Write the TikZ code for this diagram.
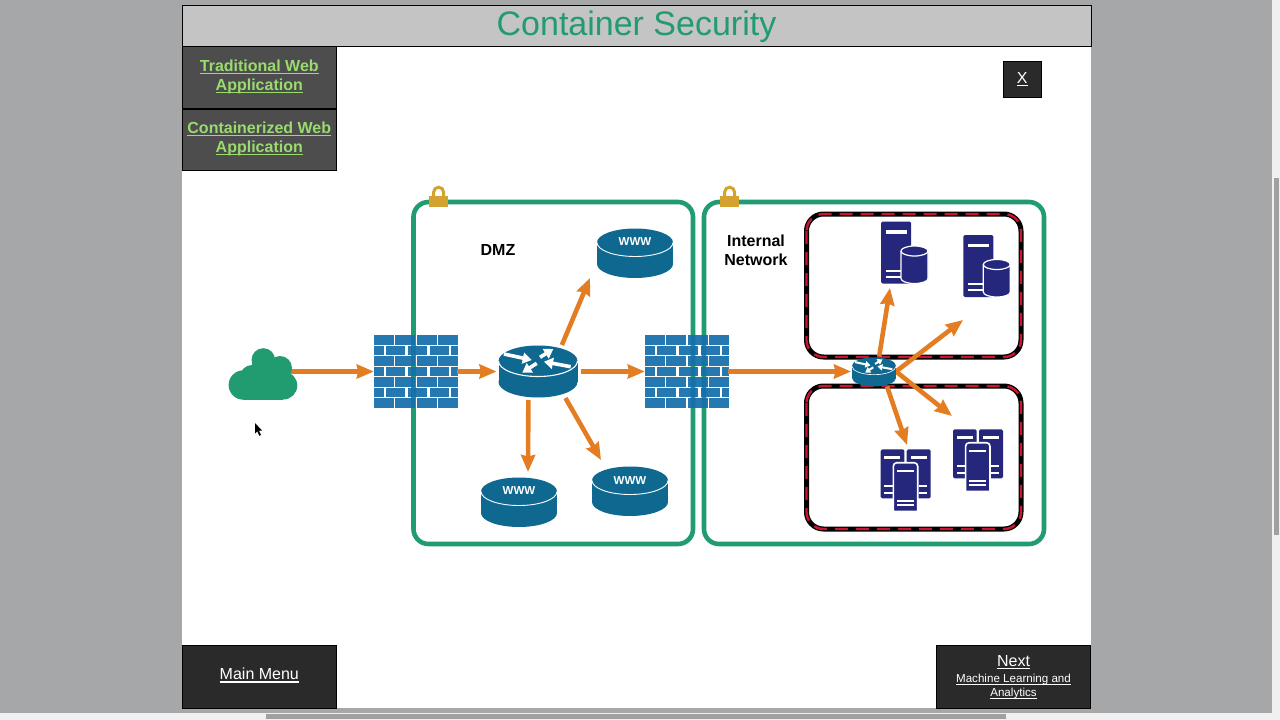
\documentclass[tikz,border=0pt]{standalone}
\usepackage{fontspec}
\setmainfont{Liberation Sans}
\usetikzlibrary{arrows.meta,calc,positioning}
\definecolor{pagegray}{RGB}{166,167,169}
\definecolor{titlegray}{RGB}{196,196,196}
\definecolor{barlight}{RGB}{240,240,240}
\definecolor{thumbgray}{RGB}{160,160,160}
\definecolor{btndark}{RGB}{77,77,77}
\definecolor{btnblack}{RGB}{42,42,42}
\definecolor{linkgreen}{RGB}{154,219,110}
\definecolor{zonegreen}{RGB}{33,155,112}
\definecolor{zonered}{RGB}{200,22,50}
\definecolor{floworange}{RGB}{228,125,34}
\definecolor{wallblue}{RGB}{22,110,172}
\definecolor{routerblue}{RGB}{14,104,144}
\definecolor{servernavy}{RGB}{37,39,125}
\definecolor{lockgold}{RGB}{212,162,46}
\newcommand{\linktext}[1]{\setbox0\hbox{#1}\rlap{\rule[-.17em]{\wd0}{.075em}}\box0}
\tikzset{
  pics/firewall/.style={code={
    \foreach \r in {0,2,4,6}
      \foreach \a/\b in {0/20,21.4/41.4,42.8/62.6,64/83.7}
        \fill[wallblue,opacity=.93] (\a,{\r*10.55}) rectangle (\b,{\r*10.55+9.6});
    \foreach \r in {1,3,5}
      \foreach \a/\b in {0/10,12/31.2,33.8/53.2,55.5/75,76.7/83.7}
        \fill[wallblue,opacity=.93] (\a,{\r*10.55}) rectangle (\b,{\r*10.55+9.6});
  }},
  pics/router/.style={code={
    \begin{scope}[scale=#1]
      \fill[routerblue] (0,21) ellipse[x radius=39.5,y radius=15.5];
      \fill[routerblue] (-39.5,0) rectangle (39.5,21);
      \fill[routerblue] (0,0) ellipse[x radius=39.5,y radius=15.5];
      \draw[white,line width=#1*1.1pt] (-39.5,0) arc[start angle=180,end angle=0,x radius=39.5,y radius=15.5];
      \draw[rtrarrow=#1] (-34,-7) -- (-6.3,-1);
      \draw[rtrarrow=#1] (32.7,5.7) -- (6,.7);
      \draw[rtrarrow=#1] (2,-3.7) -- (15.3,-12);
      \draw[rtrarrow=#1] (-1.3,2.3) -- (-15.7,11.7);
    \end{scope}
  }},
  rtrarrow/.style={white,line width=#1*3.6pt,-{Triangle[length=9pt,width=11pt,scale=#1]}},
  pics/disk/.style={code={
    \fill[routerblue] (0,21.5) ellipse[x radius=38,y radius=14];
    \fill[routerblue] (-38,0) rectangle (38,21.5);
    \fill[routerblue] (0,0) ellipse[x radius=38,y radius=14];
    \draw[white,line width=.9pt] (-38,0) arc[start angle=180,end angle=0,x radius=38,y radius=14];
  }},
  pics/dbserver/.style={code={
    \fill[servernavy,rounded corners=1.5pt] (0,0) rectangle (30,62);
    \fill[white] (4.5,8.5) rectangle (25.5,12);
    \fill[white] (4.5,48) rectangle (21,50.2);
    \fill[white] (4.5,54) rectangle (21,56.2);
    \fill[servernavy,draw=white,line width=1.2pt] (20,29.5) -- (20,57) arc[start angle=180,end angle=0,x radius=13.5,y radius=5] -- (47,29.5) arc[start angle=0,end angle=-180,x radius=13.5,y radius=5] -- cycle;
    \draw[white,line width=1.2pt] (20,29.5) arc[start angle=180,end angle=0,x radius=13.5,y radius=5];
  }},
  pics/serverstack/.style={code={
    \fill[servernavy,rounded corners=1.5pt] (0,0) rectangle (23.6,49);
    \fill[servernavy,rounded corners=1.5pt] (26,0) rectangle (50,49);
    \fill[white] (3.5,7) rectangle (19.5,9.2);
    \fill[white] (30,7) rectangle (46,9.2);
    \fill[white] (3.5,35.8) rectangle (12,38);
    \fill[white] (3.5,42.4) rectangle (12,44.6);
    \fill[white] (38,35.8) rectangle (46,38);
    \fill[white] (38,42.4) rectangle (46,44.6);
    \fill[servernavy,draw=white,line width=1.6pt] (12.6,62) [rounded corners=3.5pt] -- (12.6,13.4) -- (37,13.4) [sharp corners] -- (37,62) -- cycle;
    \fill[white] (16.3,20.4) rectangle (33.3,22.6);
    \fill[white] (16.3,50.2) rectangle (33.3,52.4);
    \fill[white] (16.3,54.8) rectangle (33.3,57);
  }},
  pics/padlock/.style={code={
    \draw[lockgold,line width=3pt] (-5,2) -- (-5,-3.8) arc[start angle=180,end angle=360,radius=5] -- (5,2);
    \fill[lockgold] (-9.7,0) rectangle (9.7,10.5);
  }},
  pics/cloudshape/.style={code={
    \fill[zonegreen] (0,-17) circle[radius=11.8];
    \fill[zonegreen] (16.7,-9) circle[radius=12];
    \fill[zonegreen] (-11.3,0) circle[radius=12];
    \fill[zonegreen] (-20,8) circle[radius=14.7];
    \fill[zonegreen] (20,8.5) circle[radius=14];
    \fill[zonegreen] (-20,3) rectangle (20,23);
    \fill[zonegreen] (-11.5,-15) rectangle (20,3);
  }}
}
\begin{document}
\begin{tikzpicture}[
    x=1pt, y=-1pt,
    zone/.style={draw=zonegreen, line width=4.6pt, rounded corners=15pt},
    netbox/.style={draw=black, line width=5pt, rounded corners=17pt, postaction={draw=zonered, line width=2.4pt, dash pattern=on 13pt off 8pt}},
    flow/.style={-{Stealth[length=17pt,width=14pt,inset=1.5pt]}, line width=4.6pt, draw=floworange},
    hit/.style={inner sep=0pt, outer sep=0pt},
    sidebtn/.style={draw=black, line width=1pt, fill=btndark, text=linkgreen, minimum width=154.5pt, minimum height=61.5pt, inner sep=0pt, align=center, font=\fontsize{16}{19}\selectfont\bfseries},
    darkbtn/.style={draw=black, line width=1pt, fill=btnblack, minimum width=154.5pt, minimum height=63pt},
    btntext/.style={white, inner sep=0pt, align=center, font=\fontsize{16}{18}\selectfont},
    zonelabel/.style={align=center, inner sep=0pt, font=\fontsize{16}{19}\selectfont\bfseries},
    wwwlabel/.style={white, inner sep=0pt, font=\fontsize{11.5}{14}\selectfont\bfseries}
  ]
  \useasboundingbox (0,0) rectangle (1280,720);
  \fill[pagegray] (0,0) rectangle (1280,720);
  \fill[white] (182,5) rectangle (1091,708);
  \fill[barlight] (1272,0) rectangle (1280,720);
  \fill[barlight] (0,712.5) rectangle (1280,720);
  \fill[thumbgray] (266,714) rectangle (1006,718.5);
  \fill[thumbgray] (1274,178) rectangle (1279,535);

  \node[draw=black, line width=1pt, fill=titlegray, minimum width=909pt, minimum height=41pt] (title) at (636.5,25.5) {};
  \node[text=zonegreen, inner sep=0pt, font=\fontsize{34}{38}\selectfont] (titletext) at (636.5,26.8) {Container Security};
  \node[sidebtn] (trad) at (259.3,77.5) {\linktext{Traditional Web}\\\linktext{Application}\rule[-5.5pt]{0pt}{0pt}};
  \node[sidebtn, below=0pt of trad] (cont) {\linktext{Containerized Web}\\\linktext{Application}\rule[-5.5pt]{0pt}{0pt}};
  \node[darkbtn, minimum width=38.5pt, minimum height=36.5pt] (closebtn) at (1022.3,79.3) {};
  \node[btntext] (closetext) at (1022.3,79) {\linktext{X}};
  \node[darkbtn] (menu) at (259.3,676.5) {};
  \node[btntext] (menutext) at (259.3,675.5) {\linktext{Main Menu}};
  \node[darkbtn] (next) at (1013.5,676.5) {};
  \node[btntext] (nexttext) at (1013.5,662) {\linktext{Next}};
  \node[btntext, font=\fontsize{11.6}{14}\selectfont] (nextsub) at (1013.5,686.5) {\linktext{Machine Learning and}\\\linktext{Analytics}};

  \draw[zone] (413.5,202) rectangle (693,544);
  \draw[zone] (704,202) rectangle (1044,544);
  \draw[netbox] (806.5,214) rectangle (1021,357);
  \draw[netbox] (806.5,386) rectangle (1021,529);

  \node[hit, minimum width=68pt, minimum height=53pt] (cloud) at (263,374.5) {};
  \node[hit, minimum width=83.5pt, minimum height=73pt] (wallone) at (415.5,371.5) {};
  \node[hit, minimum width=83.5pt, minimum height=73pt] (walltwo) at (686.5,371.5) {};
  \node[hit, minimum width=79pt, minimum height=53pt] (bigrouter) at (538,371.5) {};
  \node[hit, minimum width=44pt, minimum height=30pt] (smallrouter) at (874,371.5) {};
  \coordinate (wwwtopend) at (590,278);
  \coordinate (wwwleftend) at (528,472);
  \coordinate (wwwrightend) at (601,460);
  \coordinate (dbleftend) at (890,288);
  \coordinate (dbrightend) at (963,320);
  \coordinate (stackrightend) at (952,416);
  \coordinate (stackleftend) at (907,445);

  \pic at (374,335) {firewall};
  \pic at (645,335) {firewall};

  \draw[flow, shorten <=-6pt] (cloud.east |- wallone.west) -- (wallone.west);
  \draw[flow, shorten >=2pt] (wallone.east) -- (bigrouter.west);
  \draw[flow, shorten <=3pt] (bigrouter.east) -- (walltwo.west);
  \draw[flow, shorten >=1pt] (walltwo.east) -- (smallrouter.west);
  \draw[flow] (bigrouter.48) -- (wwwtopend);
  \draw[flow, shorten <=2pt] (bigrouter.-110.7) -- (wwwleftend);
  \draw[flow] (bigrouter.-44.5) -- (wwwrightend);
  \draw[flow] (smallrouter.71.6) -- (dbleftend);
  \draw[flow] (smallrouter.east) -- (dbrightend);
  \draw[flow] (smallrouter.east) -- (stackrightend);
  \draw[flow] (smallrouter.-49) -- (stackleftend);

  \pic at (263.3,377) {cloudshape};
  \pic at (538,361) {router=1};
  \pic at (874,366) {router=.56};
  \pic at (635,242.5) {disk};
  \pic at (519,491.5) {disk};
  \pic at (630,480.5) {disk};
  \pic at (881,221.5) {dbserver};
  \pic at (963.3,235) {dbserver};
  \pic at (880.7,449.3) {serverstack};
  \pic at (953,429.3) {serverstack};
  \pic at (438.6,196) {padlock};
  \pic at (729.6,196) {padlock};

  \node[wwwlabel] (wwwtop) at (635,242) {WWW};
  \node[wwwlabel] (wwwleft) at (519,491) {WWW};
  \node[wwwlabel] (wwwright) at (630,480.5) {WWW};
  \node[zonelabel] (dmzlabel) at (498,250) {DMZ};
  \node[zonelabel] (intlabel) at (756,250) {Internal\\Network};

  \fill[black] (255,423) -- (255,433.5) -- (257.3,431.3) -- (259.3,435.8) -- (261,435) -- (259,430.8) -- (262,430.5) -- cycle;
\end{tikzpicture}
\end{document}
